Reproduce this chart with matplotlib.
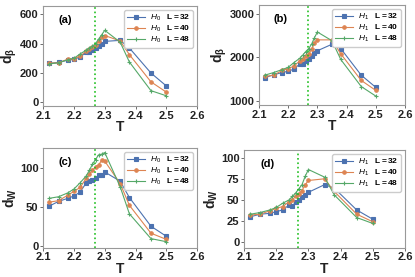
import matplotlib
matplotlib.use('Agg')
import matplotlib.pyplot as plt
import numpy as np

plt.rcParams['font.family'] = ['Liberation Sans', 'DejaVu Sans']
plt.rcParams['mathtext.fontset'] = 'custom'
plt.rcParams['mathtext.rm'] = 'Liberation Sans'
plt.rcParams['mathtext.it'] = 'Liberation Sans:italic'
plt.rcParams['mathtext.bf'] = 'Liberation Sans:bold'

T = [2.12, 2.15, 2.18, 2.20, 2.22, 2.24, 2.25, 2.26, 2.27, 2.28, 2.29, 2.30, 2.35, 2.38, 2.45, 2.50]
Tc = 2.269
sizes = [32, 40, 48]

# (a) d_beta, H0
a_32 = [265, 272, 288, 292, 310, 340, 342, 355, 368, 385, 395, 415, 422, 370, 200, 112]
a_40 = [268, 268, 295, 298, 315, 348, 360, 375, 390, 415, 445, 455, 418, 325, 140, 70]
a_48 = [262, 270, 290, 300, 330, 355, 370, 382, 400, 430, 460, 490, 410, 275, 80, 45]
# (b) d_beta, H1
b_32 = [1530, 1600, 1650, 1680, 1730, 1850, 1840, 1920, 1950, 2030, 2100, 2150, 2300, 2200, 1590, 1310]
b_40 = [1560, 1590, 1700, 1740, 1800, 1920, 1960, 2040, 2080, 2180, 2320, 2400, 2400, 2080, 1470, 1240]
b_48 = [1590, 1650, 1720, 1770, 1880, 1980, 2050, 2130, 2200, 2300, 2450, 2580, 2380, 1950, 1330, 1110]
# (c) d_w, H0
c_32 = [51, 57, 61, 64, 69, 81, 83, 85, 87, 91, 91, 95, 83, 62, 25, 12]
c_40 = [56, 58, 65, 70, 75, 87, 92, 97, 102, 104, 110, 109, 80, 52, 16, 8]
c_48 = [61, 63, 68, 73, 81, 90, 97, 105, 111, 117, 118, 120, 76, 41, 9, 5]
# (d) d_w, H1
d_32 = [30, 33, 34, 36, 38, 44, 43, 47, 50, 53, 56, 59, 68, 64, 38, 27]
d_40 = [32, 33, 37, 40, 42, 48, 50, 54, 57, 61, 68, 73, 75, 60, 33, 24]
d_48 = [33, 35, 38, 41, 46, 50, 54, 58, 63, 68, 78, 86, 77, 56, 29, 22]

colors = ['#4C72B0', '#DD8452', '#55A868']
markers = ['s', 'o', '+']

panels = [
    ('(a)', 'H_0', r'$\mathbf{d_\beta}$', [a_32, a_40, a_48], (-25, 655), [0, 200, 400, 600]),
    ('(b)', 'H_1', r'$\mathbf{d_\beta}$', [b_32, b_40, b_48], (900, 3200), [1000, 2000, 3000]),
    ('(c)', 'H_0', r'$\mathbf{d_W}$', [c_32, c_40, c_48], (-3, 126), [0, 50, 100]),
    ('(d)', 'H_1', r'$\mathbf{d_W}$', [d_32, d_40, d_48], (-7, 109), [0, 25, 50, 75, 100]),
]
positions = [
    [0.104, 0.617, 0.371, 0.361],
    [0.624, 0.620, 0.352, 0.362],
    [0.104, 0.105, 0.371, 0.361],
    [0.588, 0.105, 0.388, 0.353],
]

fig = plt.figure(figsize=(4.15, 2.77), dpi=100)

for (tag, h, ylab, series, ylim, yticks), pos in zip(panels, positions):
    ax = fig.add_axes(pos)
    for L, y, c, m in zip(sizes, series, colors, markers):
        ax.plot(T, y, color=c, marker=m, markersize=2.5, linewidth=0.8,
                markeredgewidth=0.8, label=r'$%s$   $\mathbf{L = %d}$' % (h, L))
    ax.axvline(Tc, color='#22c022', linestyle=':', linewidth=1.2)
    ax.set_xlim(2.1, 2.6)
    ax.set_ylim(*ylim)
    ax.set_xticks([2.1, 2.2, 2.3, 2.4, 2.5, 2.6])
    ax.set_yticks(yticks)
    for lab in ax.get_xticklabels() + ax.get_yticklabels():
        lab.set_fontweight('bold')
    ax.tick_params(labelsize=8, length=2.5, width=0.6, pad=0.8, color='#555555',
                   labelcolor='#222222')
    for s in ax.spines.values():
        s.set_color('#999999')
        s.set_linewidth(0.8)
    ax.set_xlabel('T', fontsize=10, fontweight='bold', labelpad=-0.5, color='#222222')
    ax.set_ylabel(ylab, fontsize=10, labelpad=0.5, color='#222222')
    ax.text(0.1, 0.83, tag, transform=ax.transAxes, fontsize=8, fontweight='bold')
    ax.legend(loc='upper right', fontsize=6, handlelength=2.2, labelspacing=0.12,
              borderpad=0.3, handletextpad=0.6, framealpha=1, edgecolor='#cccccc')

fig.savefig('out.png', dpi=100)
